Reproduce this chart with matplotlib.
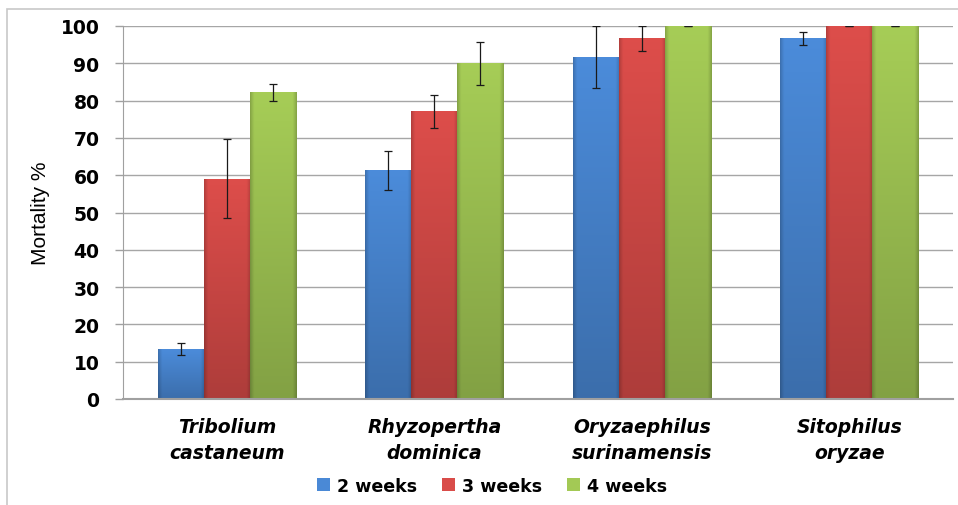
import matplotlib.pyplot as plt
import numpy as np
from matplotlib.patches import Rectangle
from matplotlib.colors import to_rgb

species = ['Tribolium\ncastaneum', 'Rhyzopertha\ndominica',
           'Oryzaephilus\nsurinamensis', 'Sitophilus\noryzae']
periods = ['2 weeks', '3 weeks', '4 weeks']

week2 = [13.3, 61.3, 91.7, 96.7]
week3 = [59.0, 77.1, 96.7, 100.0]
week4 = [82.2, 90.0, 100.0, 100.0]
err2 = [1.6, 5.3, 8.3, 1.7]
err3 = [10.6, 4.4, 3.3, 0.0]
err4 = [2.2, 5.8, 0.0, 0.0]

yticks = [0, 10, 20, 30, 40, 50, 60, 70, 80, 90, 100]


def shade_bar(ax, bar, color):
    # fake the excel bevel/gradient look with a clipped image
    x0, y0 = bar.get_x(), bar.get_y()
    w, h = bar.get_width(), bar.get_height()
    ny, nx = 200, 40
    c = np.array(to_rgb(color))
    yy = np.linspace(1.0, 0.0, ny)[:, None]      # 1 at top, 0 at bottom
    xx = np.linspace(0.0, 1.0, nx)[None, :]
    vert = 0.80 + 0.22 * yy
    edge = np.minimum(xx, 1 - xx)
    horiz = 0.82 + 0.18 * np.clip(edge / 0.08, 0, 1)
    f = vert * horiz
    img = np.clip(c[None, None, :] * f[:, :, None], 0, 1)
    im = ax.imshow(img, extent=[x0, x0 + w, y0, y0 + h], aspect='auto',
                   origin='upper', zorder=bar.get_zorder() + 0.1)
    im.set_clip_path(bar)


fig = plt.figure(figsize=(9.58, 5.06), dpi=100)
ax = fig.add_axes([123 / 958, 1 - 400 / 506, 830 / 958, 373 / 506])

colors = ['#4a89d6', '#d94c49', '#a3c955']
values = [week2, week3, week4]
errors = [err2, err3, err4]
width = 0.222
x = np.arange(len(species))

for j, (vals, errs, col, lab) in enumerate(zip(values, errors, colors, periods)):
    pos = x + (j - 1) * width
    bars = ax.bar(pos, vals, width, color=col, edgecolor='none', label=lab, zorder=2)
    for b in bars:
        shade_bar(ax, b, col)
    ax.errorbar(pos, vals, yerr=errs, fmt='none', ecolor='#1a1a1a',
                elinewidth=0.9, capsize=2.6, capthick=0.9, zorder=4)

ax.set_xlim(-0.5, 3.5)
ax.set_ylim(0, 100)
ax.set_yticks(yticks)
ax.set_xticks(x)
ax.set_xticklabels(species, fontsize=13.5, fontweight='bold', fontstyle='italic',
                   linespacing=1.45)
ax.tick_params(axis='x', length=0, pad=13)
ax.tick_params(axis='y', length=6, width=1, color='#a0a0a0', pad=11, labelsize=13.5)
for t in ax.get_yticklabels():
    t.set_fontweight('bold')

ax.yaxis.grid(True, color='#a6a6a6', linewidth=1, zorder=0)
ax.set_axisbelow(True)
for s in ['top', 'right']:
    ax.spines[s].set_visible(False)
ax.spines['left'].set_color('#a0a0a0')
ax.spines['bottom'].set_color('#a0a0a0')
ax.spines['bottom'].set_linewidth(1.5)

fig.text(41 / 958, 1 - 213 / 506, 'Mortality %', rotation=90, ha='center', va='center',
         fontsize=15, family='Liberation Sans')

leg = fig.legend(loc='center', bbox_to_anchor=(492 / 958, 1 - 487 / 506), ncol=3,
                 frameon=False, prop={'weight': 'bold', 'size': 12.6},
                 handlelength=0.75, handleheight=0.75, handletextpad=0.4,
                 columnspacing=1.4)

# light grey chart frame
fig.patches.append(Rectangle((7 / 958, -0.1), 1.2, 1 - 10 / 506 + 0.1,
                             transform=fig.transFigure, fill=False,
                             edgecolor='#c8c8c8', linewidth=1.2))

fig.savefig('out.png', dpi=100)
